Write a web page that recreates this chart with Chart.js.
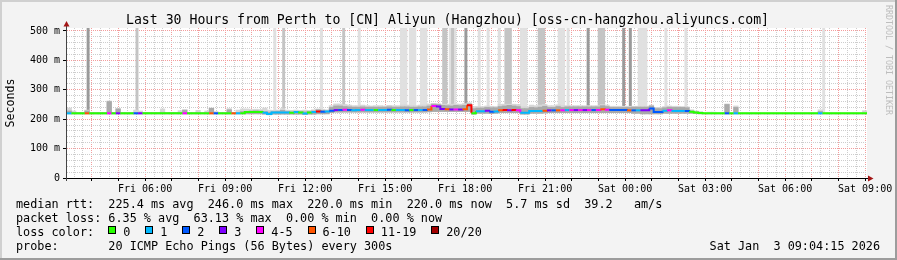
<!DOCTYPE html>
<html>
<head>
<meta charset="utf-8">
<script src="https://cdn.jsdelivr.net/npm/chart.js@4/dist/chart.umd.min.js"></script>
<style>
  html, body { margin: 0; padding: 0; background: #f3f3f3; }
  canvas { display: block; }
</style>
</head>
<body>
<canvas id="chart" width="897" height="260"></canvas>
<script>
const TITLE = 'Last 30 Hours from Perth to [CN] Aliyun (Hangzhou) [oss-cn-hangzhou.aliyuncs.com]';
const Y_TITLE = 'Seconds';
const WATERMARK = 'RRDTOOL / TOBI OETIKER';

// x values are hours since Fri 00:00; the window is the 30 h before Sat 09:04:15
const START_HOUR = 3 + 4.25 / 60;
const END_HOUR = START_HOUR + 30;
const BIN_MIN = 10;   // one median / smoke value per 10 min
const SLOT_MIN = 5;   // off-scale smoke spikes per 5 min step
const Y_MAX = 510;

const xTickHours  = [6, 9, 12, 15, 18, 21, 24, 27, 30, 33];
const xTickLabels = ['Fri 06:00', 'Fri 09:00', 'Fri 12:00', 'Fri 15:00', 'Fri 18:00',
                     'Fri 21:00', 'Sat 00:00', 'Sat 03:00', 'Sat 06:00', 'Sat 09:00'];
const yTickValues = [0, 100, 200, 300, 400, 500];
const yTickLabels = ['0', '100 m', '200 m', '300 m', '400 m', '500 m'];

// median rtt (ms) per 10 min bin
const median = [
  220,220,220,220,220,220,220,220,220,220, 220,220,220,220,220,220,220,220,220,220,
  220,220,220,220,220,220,220,220,220,220, 220,220,220,220,220,220,220,220,220,220,
  224,224,224,224,222,218,223,223,223,223, 222,224,223,219,223,224,226,225,226,229,
  231,231,232,231,230,231,232,231,231,231, 231,231,232,231,231,231,230,231,231,231,
  231,233,245,243,235,234,233,233,233,234, 247,220,227,227,229,225,226,230,231,230,
  231,230,222,222,228,228,228,229,230,230, 230,230,231,231,231,231,231,231,231,231,
  234,232,231,231,231,231,230,230,230,230, 230,236,224,224,229,230,228,228,228,228,
  225,223,221,220,220,220,220,220,220,220, 220,220,220,220,220,220,220,220,220,220,
  220,220,220,220,220,220,220,220,220,220, 220,220,220,220,220,220,220,220,220,220,
];

// loss class per bin (index into lossLabels / lossColors)
const loss = [
  1,0,0,0,5,0,0,0,0,4, 0,3,0,0,0,2,3,0,0,0,
  0,0,0,0,0,0,4,0,0,0, 0,0,5,2,0,0,0,5,1,0,
  0,0,0,0,1,1,1,1,1,1, 0,1,0,1,0,1,6,2,1,2,
  3,2,4,2,1,1,4,1,1,0, 1,1,2,0,1,1,2,0,2,1,
  2,5,4,3,3,5,3,4,3,5, 6,0,1,1,3,2,1,5,6,3,
  6,4,1,1,1,1,1,5,3,2, 5,4,1,4,3,4,3,4,2,4,
  5,4,2,2,2,2,5,2,1,3, 3,2,2,2,1,4,1,1,1,2,
  0,0,0,0,0,0,0,0,2,0, 1,0,0,0,0,0,0,0,0,0,
  0,0,0,0,0,0,0,0,0,1, 0,0,0,0,0,0,0,0,0,0,
];

// smoke: lowest ping, upper light band, upper dark band (ms)
const smokeLo = [
  218,218,218,218,218,218,218,218,218,218, 218,218,218,218,218,218,218,218,218,218,
  218,218,218,218,218,218,218,218,218,218, 218,218,218,218,218,218,218,218,218,218,
  218,218,218,218,217,215,217,217,217,217, 217,217,217,216,217,217,218,218,218,222,
  224,224,224,224,224,224,224,224,224,224, 224,224,224,224,224,224,224,224,224,224,
  224,225,226,226,226,226,226,226,226,226, 226,217,220,220,220,219,220,222,222,222,
  222,222,217,217,220,220,220,221,222,222, 222,222,222,222,222,222,222,222,222,222,
  222,222,222,222,222,222,222,220,220,218, 218,218,218,218,220,220,220,220,220,220,
  220,219,218,218,218,218,218,218,218,218, 218,218,218,218,218,218,218,218,218,218,
  218,218,218,218,218,218,218,218,218,218, 218,218,218,218,218,218,218,218,218,218,
];
const smokeHi = [
  238,228,222,222,231,222,222,222,222,262, 222,236,222,222,222,231,228,222,222,222,
  222,235,222,222,222,229,232,222,222,230, 222,228,238,226,222,222,236,222,231,235,
  235,233,234,233,238,231,230,231,236,231, 230,231,230,231,230,232,235,234,232,246,
  252,252,250,248,246,246,248,246,245,246, 246,245,247,246,246,248,248,246,246,248,
  248,252,254,253,251,251,251,252,251,253, 256,243,243,243,245,244,243,251,251,251,
  251,250,242,242,248,246,248,250,246,246, 249,246,246,246,246,246,246,246,246,246,
  250,248,244,244,244,244,244,244,244,244, 244,248,240,240,243,245,244,244,243,242,
  232,228,226,222,224,224,222,222,252,222, 245,222,222,222,222,222,222,222,222,222,
  222,222,222,222,222,222,222,222,222,232, 222,222,222,222,222,222,222,222,222,229,
];
const coreHi = [
  228,222,222,222,228,222,222,222,222,260, 222,235,222,222,222,222,222,222,222,222,
  222,222,222,222,222,222,231,222,222,222, 222,222,237,222,222,222,232,222,222,226,
  226,228,229,228,226,224,226,227,230,226, 225,226,226,225,226,228,232,230,228,240,
  245,245,243,242,241,241,242,241,241,241, 241,241,242,241,241,242,242,241,241,242,
  242,245,251,250,247,246,245,247,246,247, 252,236,238,238,240,239,239,243,245,247,
  245,243,236,236,240,239,241,244,240,240, 243,240,242,242,242,242,242,242,242,242,
  246,243,240,240,240,240,240,241,241,241, 241,245,236,236,239,241,240,240,240,239,
  228,225,223,220,220,220,220,220,250,220, 240,220,220,220,220,220,220,220,220,220,
  220,220,220,220,220,220,220,220,220,226, 220,220,220,220,220,220,220,220,220,220,
];

// 5 min steps whose slowest pings went off the top of the graph
const spikeSlotsLight = [93, 114, 131, 150, 151, 152, 154, 155, 156, 159, 160, 161, 172, 174,
                         185, 189, 194, 204, 205, 206, 221, 222, 223, 225, 257, 258, 259, 260,
                         269, 278, 340];
const spikeSlotsMid   = [31, 97, 124, 169, 170, 173, 197, 198, 199, 212, 213, 214, 239, 240, 241];
const spikeSlotsDark  = [9, 179, 234, 250, 253];

const lossLabels = ['0', '1', '2', '3', '4-5', '6-10', '11-19', '20/20'];
const lossColors = ['#26ff00', '#00b8ff', '#0059ff', '#7e00ff', '#ff00ff', '#ff5500', '#ff0000', '#a10000'];

const statLines = [
  'median rtt:  225.4 ms avg  246.0 ms max  220.0 ms min  220.0 ms now  5.7 ms sd  39.2   am/s',
  'packet loss: 6.35 % avg  63.13 % max  0.00 % min  0.00 % now',
];
const lossLegendTitle = 'loss color:';
const probeLine = 'probe:       20 ICMP Echo Pings (56 Bytes) every 300s';
const stampText = 'Sat Jan  3 09:04:15 2026';

const MONO = '"DejaVu Sans Mono", "Liberation Mono", monospace';
const GRID_MINOR = '#cdcdcd';
const GRID_MAJOR = '#f39c9c';
const ARROW = '#a31515';

const binStart  = i => START_HOUR + i * BIN_MIN / 60;
const binCenter = i => START_HOUR + (i + 0.5) * BIN_MIN / 60;
const slotCenter = k => START_HOUR + (k + 0.5) * SLOT_MIN / 60;
const isWhole = v => Math.abs(v - Math.round(v)) < 1e-9;

const medianPts = median.map((v, i) => ({ x: binStart(i), y: v }));
medianPts.push({ x: END_HOUR, y: median[median.length - 1] });

const rangePts = (lo, hi) => lo.map((v, i) => ({ x: binCenter(i), y: [v, hi[i]] }));
const spikePts = slots => slots.map(k => ({
  x: slotCenter(k),
  y: [median[Math.floor(k * SLOT_MIN / BIN_MIN)], Y_MAX],
}));

const rrdFrame = {
  id: 'rrdFrame',
  beforeDraw(chart) {
    const { ctx, chartArea: a, width, height } = chart;
    ctx.save();
    ctx.fillStyle = '#f3f3f3';
    ctx.fillRect(0, 0, width, height);
    ctx.fillStyle = '#ffffff';
    ctx.fillRect(a.left, a.top, a.right - a.left, a.bottom - a.top);
    ctx.restore();
  },
  afterDraw(chart) {
    const { ctx, chartArea: a, width, height } = chart;
    ctx.save();

    // axes
    ctx.lineWidth = 1;
    ctx.strokeStyle = '#000';
    ctx.beginPath();
    ctx.moveTo(a.left - 4, a.bottom + 0.5);
    ctx.lineTo(a.right + 1, a.bottom + 0.5);
    ctx.stroke();
    ctx.strokeStyle = '#444';
    ctx.beginPath();
    ctx.moveTo(a.left - 0.5, a.top - 2);
    ctx.lineTo(a.left - 0.5, a.bottom + 3);
    ctx.stroke();

    ctx.fillStyle = ARROW;
    ctx.beginPath();
    ctx.moveTo(a.left - 3.5, a.top - 1.5);
    ctx.lineTo(a.left + 2.5, a.top - 1.5);
    ctx.lineTo(a.left - 0.5, a.top - 7);
    ctx.closePath();
    ctx.fill();
    ctx.beginPath();
    ctx.moveTo(a.right + 1, a.bottom - 2.5);
    ctx.lineTo(a.right + 1, a.bottom + 3.5);
    ctx.lineTo(a.right + 6.5, a.bottom + 0.5);
    ctx.closePath();
    ctx.fill();

    // title and axis title
    ctx.fillStyle = '#000';
    ctx.textBaseline = 'alphabetic';
    ctx.textAlign = 'center';
    ctx.font = '13.2px ' + MONO;
    ctx.fillText(TITLE, 447.5, 23.5);

    ctx.save();
    ctx.translate(14, (a.top + a.bottom) / 2);
    ctx.rotate(-Math.PI / 2);
    ctx.font = '11.6px ' + MONO;
    ctx.fillText(Y_TITLE, 0, 0);
    ctx.restore();

    // legend block
    ctx.textAlign = 'left';
    ctx.font = '11.8px ' + MONO;
    const x0 = 16, base = 207.5, lh = 14;
    statLines.forEach((t, i) => ctx.fillText(t, x0, base + i * lh));
    ctx.fillText(lossLegendTitle, x0, base + 2 * lh);
    let bx = 108.3;
    lossLabels.forEach((lab, i) => {
      ctx.fillStyle = '#000';
      ctx.fillRect(Math.round(bx), 226, 8, 8);
      ctx.fillStyle = lossColors[i];
      ctx.fillRect(Math.round(bx) + 1, 227, 6, 6);
      ctx.fillStyle = '#000';
      ctx.fillText(lab, bx + 15, base + 2 * lh);
      bx += 15 + ctx.measureText(lab).width + 14.9;
    });
    ctx.fillText(probeLine, x0, base + 3 * lh);
    ctx.textAlign = 'right';
    ctx.fillText(stampText, 880, base + 3 * lh);

    // watermark
    ctx.save();
    ctx.translate(888, 5);
    ctx.rotate(Math.PI / 2);
    ctx.textAlign = 'left';
    ctx.textBaseline = 'middle';
    ctx.fillStyle = '#bdbdbd';
    ctx.font = '8.3px ' + MONO;
    ctx.fillText(WATERMARK, 0, 0);
    ctx.restore();

    // 3d frame
    ctx.fillStyle = '#d0d0d0';
    ctx.fillRect(0, 0, width, 2);
    ctx.fillRect(0, 0, 2, height);
    ctx.fillStyle = '#9c9c9c';
    ctx.fillRect(0, height - 2, width, 2);
    ctx.fillRect(width - 2, 0, 2, height);
    ctx.restore();
  },
};

const xGridHours = [];
for (let m = 200; m <= 1980; m += 20) xGridHours.push(m / 60);
const yGridValues = [];
for (let v = 0; v <= 500; v += 20) yGridValues.push(v);

new Chart(document.getElementById('chart'), {
  type: 'bar',
  data: {
    datasets: [
      {
        type: 'line', label: 'median rtt', data: medianPts, order: 0,
        borderWidth: 2, pointRadius: 0, stepped: true, fill: false,
        borderCapStyle: 'butt', borderColor: lossColors[0],
        segment: { borderColor: c => lossColors[loss[c.p0DataIndex]] || lossColors[0] },
      },
      { label: 'smoke core', data: rangePts(smokeLo, coreHi), order: 1, backgroundColor: '#a9a9a9', barThickness: 4.6 },
      { label: 'smoke', data: rangePts(smokeLo, smokeHi), order: 2, backgroundColor: '#d6d6d6', barThickness: 4.6 },
      { label: 'spike dark', data: spikePts(spikeSlotsDark), order: 3, backgroundColor: '#9a9a9a', barThickness: 2.3 },
      { label: 'spike mid', data: spikePts(spikeSlotsMid), order: 4, backgroundColor: '#c4c4c4', barThickness: 2.3 },
      { label: 'spike light', data: spikePts(spikeSlotsLight), order: 5, backgroundColor: '#e0e0e0', barThickness: 2.3 },
    ],
  },
  options: {
    responsive: false,
    animation: false,
    devicePixelRatio: 1,
    layout: { padding: { left: 0, right: 30, top: 28, bottom: 0 } },
    datasets: { bar: { grouped: false, borderWidth: 0, borderSkipped: false } },
    plugins: { legend: { display: false }, tooltip: { enabled: false }, title: { display: false } },
    scales: {
      x: {
        type: 'linear', min: START_HOUR, max: END_HOUR, offset: false,
        afterBuildTicks: s => { s.ticks = xGridHours.map(v => ({ value: v })); },
        afterFit: s => { s.height = 82; },
        grid: {
          offset: false, lineWidth: 1, drawTicks: true, tickLength: 3,
          color: c => isWhole(c.tick.value) ? GRID_MAJOR : GRID_MINOR,
          tickColor: c => isWhole(c.tick.value) ? '#000' : 'rgba(0,0,0,0)',
        },
        border: { display: false, dash: [1, 1] },
        ticks: {
          autoSkip: false, maxRotation: 0, minRotation: 0, padding: 2, color: '#000',
          font: { family: MONO, size: 10 },
          callback: v => { const i = xTickHours.indexOf(v); return i < 0 ? '' : xTickLabels[i]; },
        },
      },
      y: {
        type: 'linear', min: 0, max: Y_MAX,
        afterBuildTicks: s => { s.ticks = yGridValues.map(v => ({ value: v })); },
        afterFit: s => { s.width = 67; },
        grid: {
          lineWidth: 1, drawTicks: true, tickLength: 4,
          color: c => yTickValues.includes(c.tick.value) ? GRID_MAJOR : GRID_MINOR,
          tickColor: c => yTickValues.includes(c.tick.value) ? '#000' : 'rgba(0,0,0,0)',
        },
        border: { display: false, dash: [1, 1] },
        ticks: {
          autoSkip: false, padding: 3, color: '#000',
          font: { family: MONO, size: 10 },
          callback: v => { const i = yTickValues.indexOf(v); return i < 0 ? '' : yTickLabels[i]; },
        },
      },
    },
  },
  plugins: [rrdFrame],
});
</script>
</body>
</html>
